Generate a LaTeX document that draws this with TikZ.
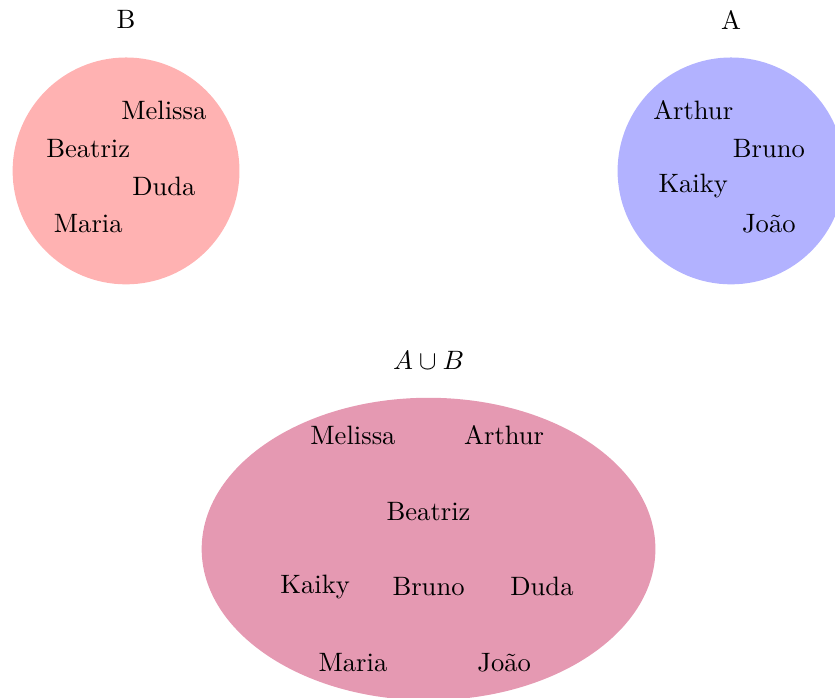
\documentclass[tikz,border=0pt]{standalone}
\usepackage{xcolor}
\usepackage{tikz}
\usetikzlibrary{shapes,positioning}

\begin{document}
\begin{tikzpicture}[
        setcircle/.style={circle,minimum size=3cm,inner sep=0pt},
        setellipse/.style={ellipse,minimum width=6cm,minimum height=4cm,inner sep=0pt,fill=purple!40},
        person/.style={inner sep=2pt},
        ]
      \useasboundingbox (-1.667,-6.97) rectangle (9.375,2.26);

      % conjunto B
      \node [setcircle, fill=red!30] (setB) at (0,0) {};
      \node (labelB) at (0,2) {B};
      \node [person] (b-melissa) at (0.5,0.8) {Melissa};
      \node [person] (b-beatriz) at (-0.5,0.3) {Beatriz};
      \node [person] (b-duda) at (0.5,-0.2) {Duda};
      \node [person] (b-maria) at (-0.5,-0.7) {Maria};

      % conjunto A
      \node [setcircle, fill=blue!30] (setA) at (8,0) {};
      \node (labelA) at (8,2) {A};
      \node [person] (a-arthur) at (7.5,0.8) {Arthur};
      \node [person] (a-bruno) at (8.5,0.3) {Bruno};
      \node [person] (a-kaiky) at (7.5,-0.2) {Kaiky};
      \node [person] (a-joao) at (8.5,-0.7) {João};

      % uniao
      \node [setellipse] (union) at (4,-5) {};
      \node (labelAB) at (4,-2.5) {$A \cup B$};
      \node [person] (u-melissa) at (3,-3.5) {Melissa};
      \node [person] (u-arthur) at (5,-3.5) {Arthur};
      \node [person] (u-beatriz) at (4,-4.5) {Beatriz};
      \node [person] (u-kaiky) at (2.5,-5.5) {Kaiky};
      \node [person] (u-bruno) at (4,-5.5) {Bruno};
      \node [person] (u-duda) at (5.5,-5.5) {Duda};
      \node [person] (u-maria) at (3,-6.5) {Maria};
      \node [person] (u-joao) at (5,-6.5) {João};
    \end{tikzpicture}
\end{document}
